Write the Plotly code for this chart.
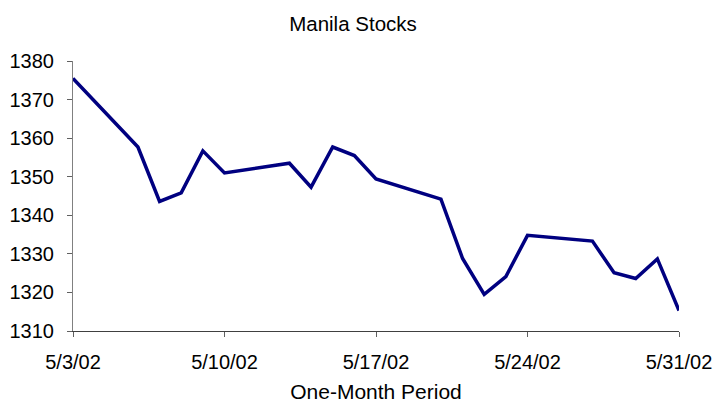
import plotly.graph_objects as go

dates = ["2002-05-03", "2002-05-06", "2002-05-07", "2002-05-08", "2002-05-09", "2002-05-10",
         "2002-05-13", "2002-05-14", "2002-05-15", "2002-05-16", "2002-05-17",
         "2002-05-20", "2002-05-21", "2002-05-22", "2002-05-23", "2002-05-24",
         "2002-05-27", "2002-05-28", "2002-05-29", "2002-05-30", "2002-05-31"]
values = [1375.5, 1357.7, 1343.6, 1345.8, 1356.7, 1351.0,
          1353.5, 1347.3, 1357.7, 1355.5, 1349.4,
          1344.2, 1328.8, 1319.5, 1324.1, 1334.8,
          1333.3, 1325.1, 1323.6, 1328.7, 1315.3]

x_tick_vals = ["2002-05-03", "2002-05-10", "2002-05-17", "2002-05-24", "2002-05-31"]
x_tick_text = ["5/3/02", "5/10/02", "5/17/02", "5/24/02", "5/31/02"]
y_tick_vals = [1310, 1320, 1330, 1340, 1350, 1360, 1370, 1380]

FONT = "Liberation Sans, Arial, sans-serif"

fig = go.Figure()
fig.add_trace(go.Scatter(x=dates, y=values, mode="lines",
                         line=dict(color="#000080", width=3.5),
                         showlegend=False))

fig.update_layout(
    width=716, height=403,
    margin=dict(l=73, r=37, t=61, b=72),
    paper_bgcolor="white", plot_bgcolor="white",
    font=dict(family=FONT, size=20, color="black"),
    title=dict(text="Manila Stocks", x=0.493, xanchor="center", xref="container",
               y=1 - 24 / 403, yref="container", yanchor="middle",
               font=dict(family=FONT, size=20.5, color="black")),
)
fig.update_xaxes(
    type="date", range=["2002-05-03", "2002-05-31"],
    tickvals=x_tick_vals, ticktext=x_tick_text,
    ticks="outside", ticklen=5, tickcolor="#606060", tickwidth=1,
    showline=True, linecolor="#404040", linewidth=1,
    showgrid=False, zeroline=False, automargin=False,
    ticklabelstandoff=8,
    tickfont=dict(family=FONT, size=20, color="black"),
    title=dict(text="One-Month Period", standoff=14,
               font=dict(family=FONT, size=21, color="black")),
)
fig.update_yaxes(
    range=[1310, 1380], tickvals=y_tick_vals,
    ticks="outside", ticklen=5, tickcolor="#606060", tickwidth=1,
    showline=True, linecolor="#808080", linewidth=1,
    showgrid=False, zeroline=False, automargin=False,
    ticklabelstandoff=9,
    tickfont=dict(family=FONT, size=20, color="black"),
)

fig.write_html("out.html", config={"displayModeBar": False},
               post_script="document.body.style.margin='0';")
